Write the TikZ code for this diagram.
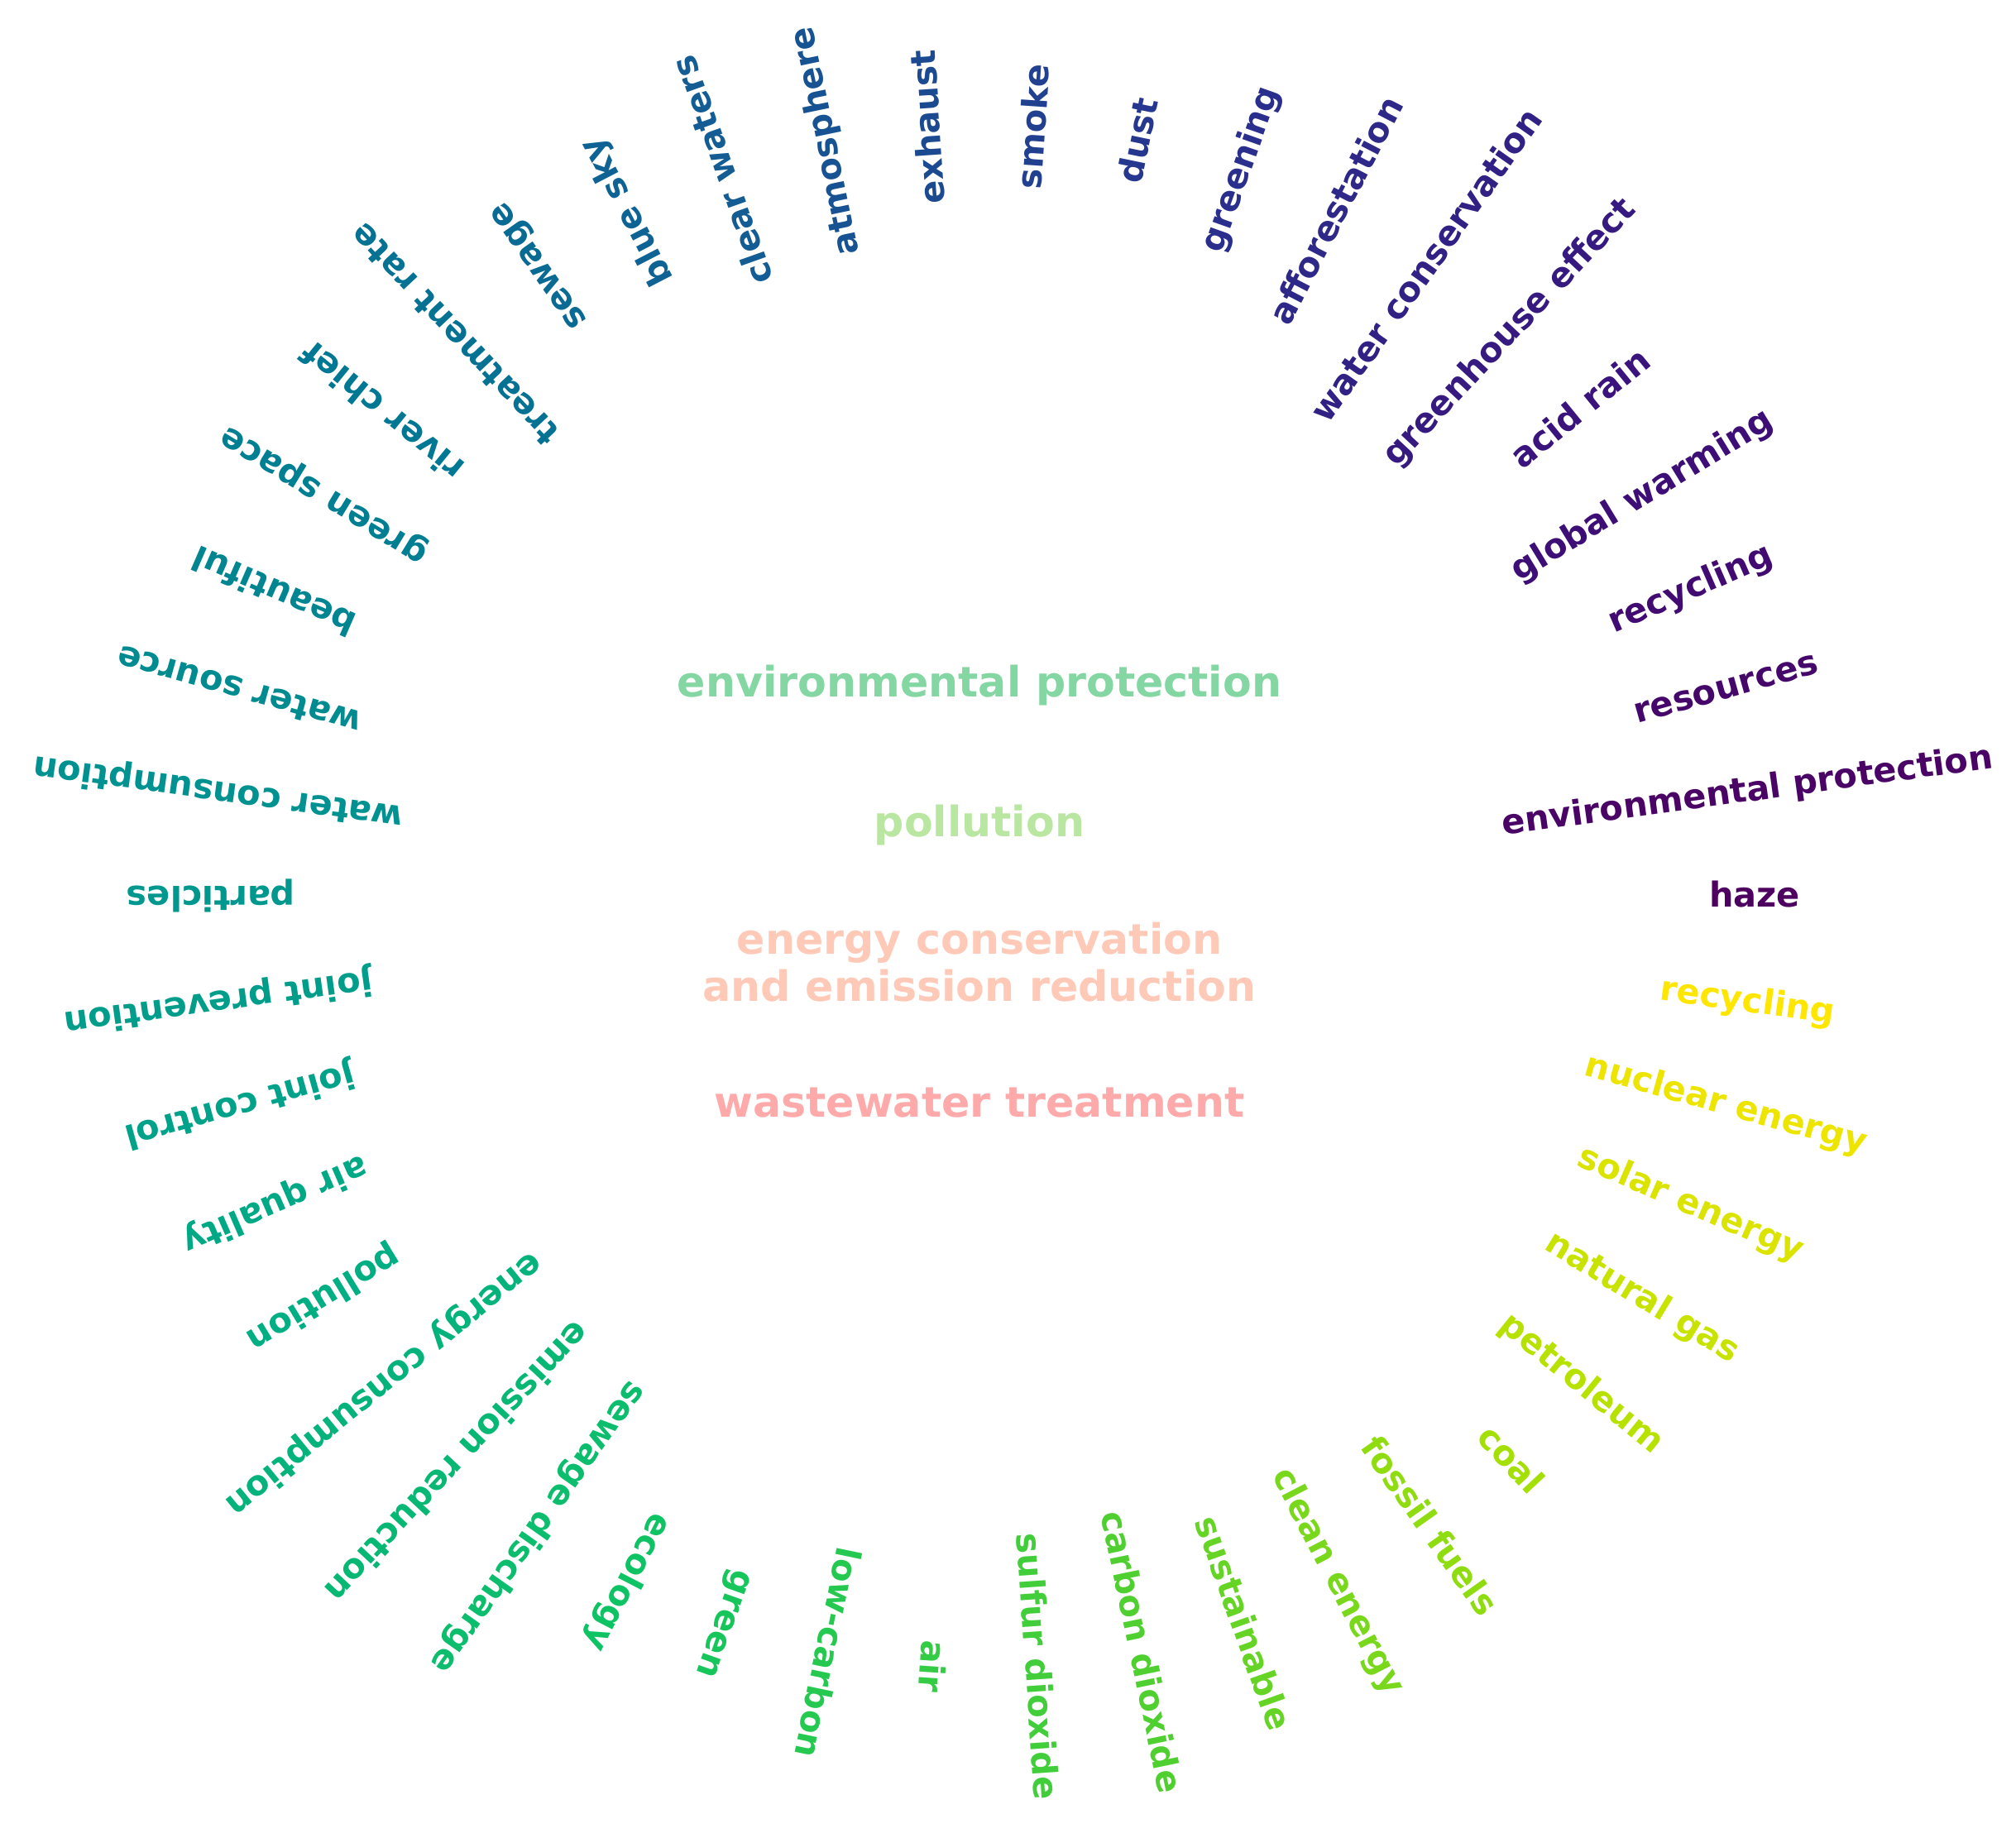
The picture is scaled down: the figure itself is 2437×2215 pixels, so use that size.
\documentclass[tikz,border=0pt]{standalone}
\usepackage{fontspec}
\setmainfont{DejaVu Sans}
\usetikzlibrary{calc}
\definecolor{v0}{HTML}{4E0060}
\definecolor{v1}{HTML}{3C107A}
\definecolor{v2}{HTML}{2A2E8C}
\definecolor{v3}{HTML}{155894}
\definecolor{v4}{HTML}{007893}
\definecolor{v5}{HTML}{00958F}
\definecolor{v6}{HTML}{00AE84}
\definecolor{v7}{HTML}{10C560}
\definecolor{v8}{HTML}{50D030}
\definecolor{v9}{HTML}{AEE200}
\definecolor{v10}{HTML}{FFE600}
\definecolor{v11}{HTML}{FFE600}
\definecolor{cEnv}{HTML}{84D7A2}
\definecolor{cPol}{HTML}{B9E6A0}
\definecolor{cEne}{HTML}{FFC9B8}
\definecolor{cWas}{HTML}{FFAAAA}
\tikzset{
  ringword/.style={inner sep=0pt, font=\bfseries\fontsize{11.8}{14}\selectfont, text height=1.5ex, text depth=0.25ex},
  midword/.style={inner sep=0pt, font=\bfseries\fontsize{14.4}{16}\selectfont, align=center}
}
\begin{document}
\begin{tikzpicture}[x=0.01cm,y=0.01cm]
\path[use as bounding box] (0,0) rectangle (2437,-2215);
\coordinate (c) at (1188,-1084);
\foreach \w [count=\i from 0] in {haze,environmental protection,resources,recycling,global warming,acid rain,greenhouse effect,water conservation,afforestation,greening,dust,smoke,exhaust,atmosphere,clear waters,blue sky,sewage,treatment rate,river chief,green space,beautiful,water source,water consumption,particles,joint prevention,joint control,air quality,pollution,energy consumption,emission reduction,sewage discharge,ecology,green,low-carbon,air,sulfur dioxide,carbon dioxide,sustainable,clean energy,fossil fuels,coal,petroleum,natural gas,solar energy,nuclear energy,recycling}{
  \pgfmathsetmacro{\ang}{\i*360/46}
  \pgfmathtruncatemacro{\k}{\i*2/9}
  \pgfmathtruncatemacro{\kk}{\k+1}
  \pgfmathtruncatemacro{\p}{round((\i*2/9-\k)*100)}
  \node[ringword, rotate=\ang, text={v\kk!\p!v\k}] (w\i) at ($(c)+(\ang:933)$) {\w};
}
\node[midword, text=cEnv] (mEnv) at (1184,-829) {environmental protection};
\node[midword, text=cPol] (mPol) at (1184,-998) {pollution};
\node[midword, text=cEne] (mEne) at (1184,-1163) {energy conservation\\and emission reduction};
\node[midword, text=cWas] (mWas) at (1184,-1333) {wastewater treatment};
\end{tikzpicture}
\end{document}
